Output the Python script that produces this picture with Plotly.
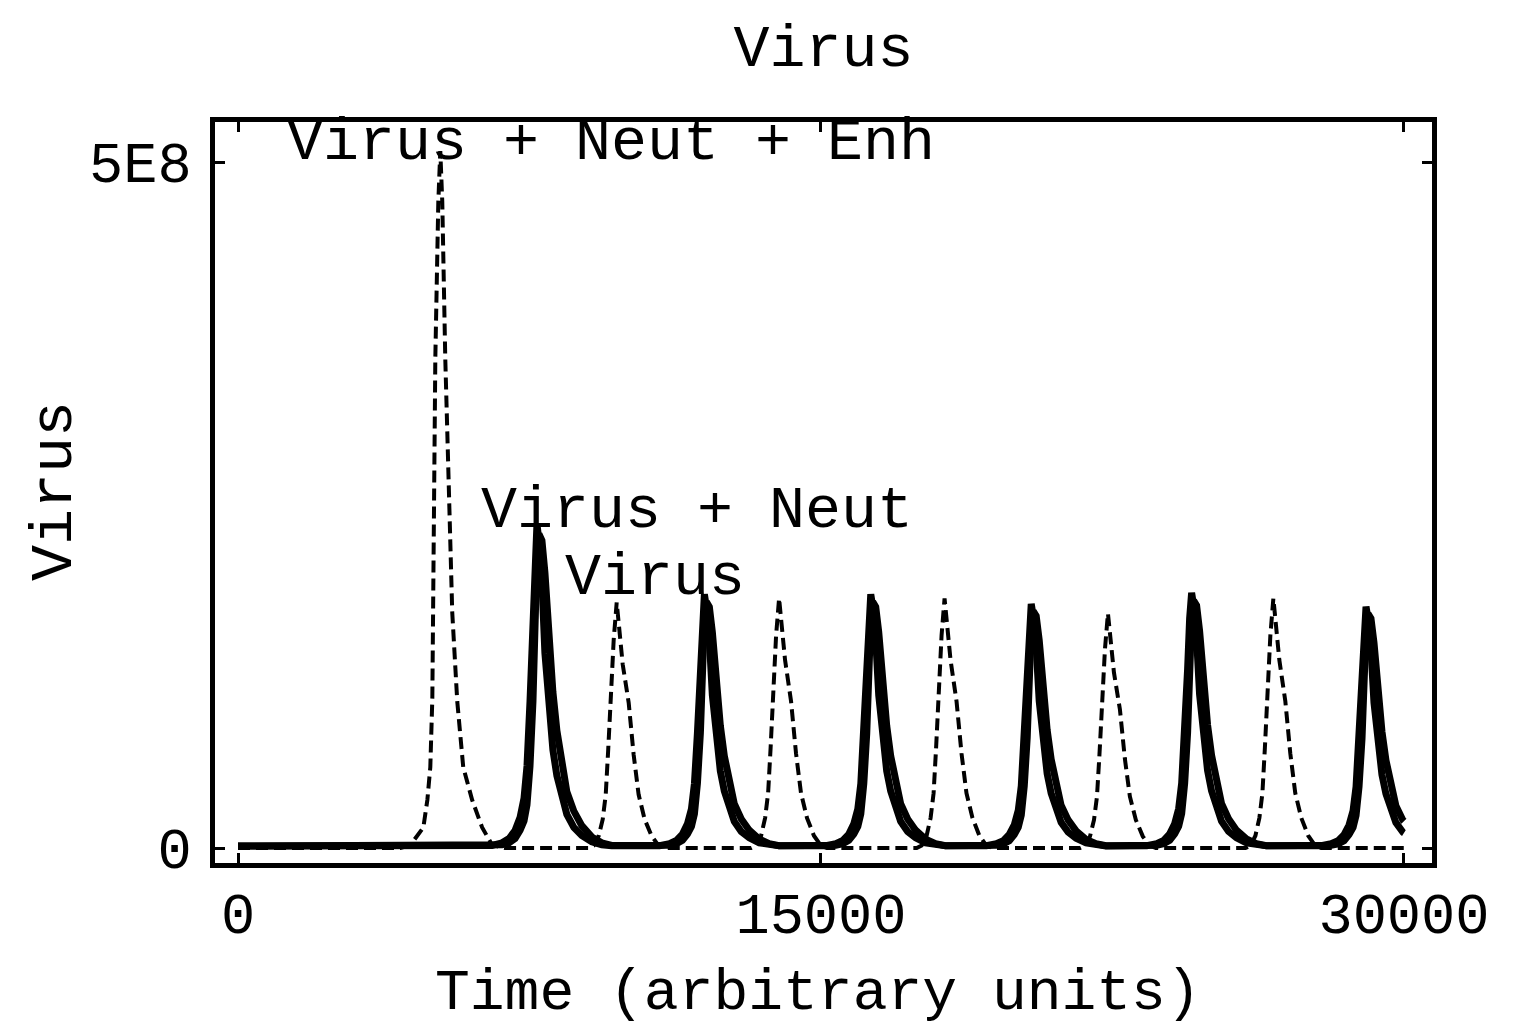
import plotly.graph_objects as go

# ---------------- data ----------------
# Dashed series: Virus + Neut + Enh  (time, virus count)
t_enh = [0, 4000, 4179, 4436, 4769, 4872, 4948, 5000, 5025, 5077, 5154, 5205,
         5256, 5333, 5512, 5641, 5795, 6025, 6282, 6538, 6872,
         9026, 9154, 9282, 9385, 9462, 9526, 9590, 9667, 9744, 9821, 9898, 10052, 10180, 10308, 10462, 10641, 10821, 10975,
         13204, 13332, 13460, 13563, 13640, 13704, 13768, 13845, 13922, 13999, 14076, 14230, 14358, 14486, 14640, 14819, 14999, 15153,
         17462, 17590, 17718, 17821, 17898, 17962, 18026, 18103, 18180, 18257, 18334, 18488, 18616, 18744, 18898, 19077, 19257, 19411,
         21666, 21794, 21922, 22025, 22102, 22166, 22230, 22307, 22384, 22461, 22538, 22692, 22820, 22948, 23102, 23281, 23461, 23615,
         25922, 26050, 26178, 26281, 26358, 26422, 26486, 26563, 26640, 26717, 26794, 26948, 27076, 27204, 27358, 27537, 27717, 27871,
         30000]
v_enh = [0, 0, 0, 2.2e6, 15e6, 35e6, 59e6, 109e6, 172e6, 357e6, 471e6, 508e6,
         471e6, 357e6, 172e6, 107e6, 59e6, 35e6, 15e6, 2.2e6, 0,
         0, 1.8e6, 9e6, 21e6, 39e6, 72e6, 107e6, 152e6, 179e6, 158e6, 134e6, 106e6, 68e6, 39e6, 21e6, 9e6, 1.8e6, 0,
         0, 1.8e6, 9e6, 22e6, 40e6, 73e6, 109e6, 155e6, 182e6, 160e6, 137e6, 107e6, 69e6, 40e6, 22e6, 9e6, 1.8e6, 0,
         0, 1.8e6, 9e6, 22e6, 40e6, 73e6, 109e6, 155e6, 182e6, 160e6, 137e6, 107e6, 69e6, 40e6, 22e6, 9e6, 1.8e6, 0,
         0, 1.7e6, 8.5e6, 20.5e6, 37.6e6, 68.4e6, 102.6e6, 145e6, 171e6, 150e6, 128e6, 101e6, 65e6, 37.6e6, 20.5e6, 8.5e6, 1.7e6, 0,
         0, 1.8e6, 9e6, 22e6, 40e6, 73e6, 109e6, 155e6, 182e6, 160e6, 137e6, 107e6, 69e6, 40e6, 22e6, 9e6, 1.8e6, 0,
         0]

# Solid series time points (shared by "Virus + Neut" and "Virus")
t_solid = [0, 6000,
           6538, 6795, 6974, 7128, 7256, 7359, 7436, 7513, 7589, 7641, 7692, 7743, 7820, 7897, 8000, 8102, 8205, 8333, 8461, 8641, 8846, 9102, 9359, 9615,
           10846, 11103, 11282, 11436, 11564, 11667, 11744, 11821, 11897, 11949, 12000, 12051, 12128, 12205, 12308, 12410, 12513, 12641, 12769, 12949, 13154, 13410, 13667, 13923,
           15127, 15384, 15563, 15717, 15845, 15948, 16025, 16102, 16178, 16230, 16281, 16332, 16409, 16486, 16589, 16691, 16794, 16922, 17050, 17230, 17435, 17691, 17948, 18204,
           19256, 19513, 19692, 19846, 19974, 20077, 20154, 20231, 20307, 20359, 20410, 20461, 20538, 20615, 20718, 20820, 20923, 21051, 21179, 21359, 21564, 21820, 22077, 22333,
           23383, 23640, 23819, 23973, 24101, 24204, 24281, 24358, 24434, 24486, 24537, 24588, 24665, 24742, 24845, 24947, 25050, 25178, 25306, 25486, 25691, 25947, 26204, 26460,
           27870, 28127, 28306, 28460, 28588, 28691, 28768, 28845, 28921, 28973, 29024, 29075, 29152, 29229, 29332, 29434, 29537, 29665, 29793, 29973, 30000]

# values in millions
v_neut_m = [1.5, 1.5,
            1.9, 3.8, 6.9, 12.8, 22.2, 36.3, 59.8, 106.8, 165.5, 212.5, 236, 224.3, 193.7, 142, 99.7, 71.5, 52.7, 36.3, 24.5, 15.1, 9.2, 4.5, 2.4, 1.7,
            1.7, 3.2, 5.6, 10.2, 17.6, 28.6, 47, 83.8, 129.8, 166.6, 185, 175.8, 151.9, 111.4, 78.3, 56.2, 41.5, 28.6, 19.4, 12, 7.4, 3.8, 2.1, 1.6,
            1.7, 3.2, 5.6, 10.2, 17.6, 28.6, 47, 83.8, 129.8, 166.6, 185, 175.8, 151.9, 111.4, 78.3, 56.2, 41.5, 28.6, 19.4, 12, 7.4, 3.8, 2.1, 1.6,
            1.7, 3.1, 5.4, 9.9, 16.9, 27.6, 45.3, 80.7, 124.9, 160.3, 178, 169.2, 146.1, 107.2, 75.3, 54.1, 39.9, 27.6, 18.7, 11.6, 7.2, 3.7, 2.1, 1.5,
            1.7, 3.2, 5.6, 10.3, 17.7, 28.8, 47.3, 84.3, 130.5, 167.5, 186, 176.8, 152.7, 112, 78.7, 56.5, 41.7, 28.8, 19.5, 12.1, 7.5, 3.8, 2.1, 1.6,
            1.7, 3.1, 5.4, 9.8, 16.8, 27.3, 44.8, 79.8, 123.5, 158.5, 176, 167.3, 144.5, 106, 74.5, 53.5, 39.5, 27.3, 18.5, 11.5, 11]

v_virus_m = [1.5, 1.5,
             1.7, 2.4, 3.8, 6.9, 12.8, 19.8, 31.6, 59.8, 106.8, 165.5, 212.5, 229, 224.3, 200.8, 153.8, 113.8, 85.6, 59.8, 41, 26.9, 16.3, 8.1, 3.8, 1.9,
             1.6, 2.1, 3.2, 5.6, 10.2, 15.7, 24.9, 47, 83.8, 129.8, 166.6, 179.5, 175.8, 157.4, 120.6, 89.3, 67.2, 47, 32.3, 21.2, 13, 6.5, 3.2, 1.7,
             1.6, 2.1, 3.2, 5.6, 10.2, 15.7, 24.9, 47, 83.8, 129.8, 166.6, 179.5, 175.8, 157.4, 120.6, 89.3, 67.2, 47, 32.3, 21.2, 13, 6.5, 3.2, 1.7,
             1.5, 2.1, 3.1, 5.4, 9.9, 15.2, 24, 45.3, 80.7, 124.9, 160.3, 172.7, 169.2, 151.5, 116.1, 86, 64.7, 45.3, 31.1, 20.5, 12.5, 6.3, 3.1, 1.7,
             1.6, 2.1, 3.2, 5.6, 10.3, 15.8, 25.1, 47.3, 84.3, 130.5, 167.5, 180.5, 176.8, 158.3, 121.3, 89.8, 67.6, 47.3, 32.5, 21.4, 13, 6.6, 3.2, 1.7,
             1.5, 2.1, 3.1, 5.4, 9.8, 15, 23.8, 44.8, 79.8, 123.5, 158.5, 170.8, 167.3, 149.8, 114.8, 85, 64, 44.8, 30.8, 20.3, 19.5]

x_ticks = [0, 15000, 30000]
x_tick_labels = ["0", "15000", "30000"]
y_ticks = [0, 5e8]
y_tick_labels = ["0", "5E8"]

# curve labels: text, x, y
label_text = ["Virus + Neut + Enh", "Virus + Neut", "Virus"]
label_x = [9597, 11810, 10730]
label_y = [514e6, 246e6, 197e6]

# ---------------- figure ----------------
FONT = "Liberation Mono, Courier New, monospace"

v_neut = [v * 1e6 for v in v_neut_m]
v_virus = [v * 1e6 for v in v_virus_m]

fig = go.Figure()
fig.add_trace(go.Scatter(x=t_enh, y=v_enh, mode="lines", name="Virus + Neut + Enh",
                         line=dict(color="black", width=4, dash="12px,6px")))
fig.add_trace(go.Scatter(x=t_solid, y=v_virus, mode="lines", name="Virus",
                         line=dict(color="black", width=7)))
fig.add_trace(go.Scatter(x=t_solid, y=v_neut, mode="lines", name="Virus + Neut",
                         line=dict(color="black", width=7)))

for txt, lx, ly in zip(label_text, label_x, label_y):
    fig.add_annotation(x=lx, y=ly, xref="x", yref="y", text=txt, showarrow=False,
                       xanchor="center", yanchor="middle",
                       font=dict(family=FONT, size=60, color="black"))

# axis titles
fig.add_annotation(x=-0.1315, y=0.502, xref="paper", yref="paper", text="Virus", textangle=-90,
                   showarrow=False, xanchor="center", yanchor="middle",
                   font=dict(family=FONT, size=60, color="black"))
fig.add_annotation(x=0.4955, y=-0.176, xref="paper", yref="paper", text="Time (arbitrary units)",
                   showarrow=False, xanchor="center", yanchor="middle",
                   font=dict(family=FONT, size=58, color="black"))

W, H = 1502, 1017  # page body adds an 8px margin around the figure
fig.update_layout(
    width=W, height=H,
    margin=dict(l=207, r=78, t=114, b=162),
    paper_bgcolor="white", plot_bgcolor="white",
    showlegend=False,
    title=dict(text="Virus", x=0.5, xref="paper", y=1 - 37 / H, yref="container",
               xanchor="center", yanchor="middle",
               font=dict(family=FONT, size=60, color="black")),
)
fig.update_xaxes(range=[-592, 30722], tickvals=x_ticks, ticktext=x_tick_labels,
                 ticks="inside", ticklen=10, tickwidth=3, tickcolor="black",
                 showline=True, linewidth=5, linecolor="black", mirror="ticks",
                 showgrid=False, zeroline=False, ticklabelstandoff=-3,
                 tickfont=dict(family=FONT, size=57, color="black"))
fig.update_yaxes(range=[-10.9e6, 529.2e6], tickvals=y_ticks, ticktext=y_tick_labels,
                 ticks="inside", ticklen=10, tickwidth=3, tickcolor="black",
                 showline=True, linewidth=5, linecolor="black", mirror="ticks",
                 showgrid=False, zeroline=False, ticklabelstandoff=7,
                 tickfont=dict(family=FONT, size=57, color="black"))

fig.write_html("out.html")
